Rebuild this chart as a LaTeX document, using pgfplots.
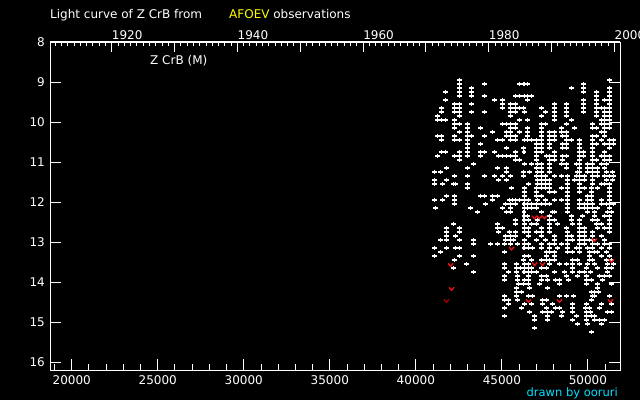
\documentclass[border=0pt]{standalone}
\usepackage{pgfplots}
\pgfplotsset{compat=1.18}
\usepackage{fontspec}
\setmainfont{DejaVu Sans}
\definecolor{afoev}{RGB}{255,255,0}
\definecolor{drawncol}{RGB}{0,224,255}
\definecolor{limred}{RGB}{240,20,20}
\definecolor{limdark}{RGB}{160,0,0}
\pgfdeclareplotmark{vee}{%
  \pgfpathmoveto{\pgfqpoint{-2.5bp}{1.5bp}}%
  \pgfpathlineto{\pgfqpoint{0bp}{-1.5bp}}%
  \pgfpathlineto{\pgfqpoint{2.5bp}{1.5bp}}%
  \pgfusepathqstroke}
\begin{document}
\fontsize{12bp}{14bp}\selectfont
\begin{tikzpicture}[x=1bp,y=1bp,font=\fontsize{12bp}{14bp}\selectfont]
\useasboundingbox (0,0) rectangle (640,400);
\fill[black] (0,0) rectangle (640,400);
\begin{axis}[
 at={(50bp,30bp)}, anchor=south west, scale only axis, width=570bp, height=328bp,
 xmin=18734, xmax=51870, ymin=8, ymax=16.2, y dir=reverse,
 axis line style={white, line width=1bp},
 every tick/.style={white, line width=1bp},
 major tick length=11bp, minor tick length=6bp, tick align=inside,
 xtick={20000,25000,...,50000}, minor xtick={19000,20000,...,51000},
 scaled x ticks=false,
 xtick pos=left, ytick pos=both,
 ytick={8,...,16},
 xticklabel style={white, anchor=north, inner sep=0pt, yshift=-5.5bp},
 yticklabel style={white, anchor=east, inner sep=0pt, xshift=-5bp},
 /pgf/number format/1000 sep={},
 /pgf/number format/assume math mode=true,
]
\addplot[only marks, mark=+, mark size=2.4bp, white, line width=1.1bp] coordinates {
(42543,8.95) (51253,8.95)
(42543,9.05) (43994,9.05) (46027,9.05) (46288,9.05) (46491,9.05) (49743,9.05)
(42543,9.15) (43240,9.15) (49047,9.15) (49743,9.15) (51253,9.15)
(41730,9.25) (42543,9.25) (43240,9.25) (49743,9.25) (50498,9.25) (51253,9.25)
(42543,9.35) (43240,9.35) (43994,9.35) (45795,9.35) (46027,9.35) (46317,9.35) (46491,9.35) (46724,9.35) (50498,9.35) (51253,9.35)
(41730,9.45) (44575,9.45) (45040,9.45) (46491,9.45) (49743,9.45) (50498,9.45) (50963,9.45) (51253,9.45)
(42252,9.55) (42543,9.55) (43240,9.55) (45040,9.55) (45504,9.55) (45795,9.55) (48059,9.55) (48756,9.55) (49743,9.55) (50498,9.55) (51253,9.55)
(41497,9.65) (42252,9.65) (42543,9.65) (45040,9.65) (45504,9.65) (45795,9.65) (46027,9.65) (46259,9.65) (47304,9.65) (48059,9.65) (48756,9.65) (49743,9.65) (50498,9.65) (50789,9.65) (50963,9.65) (51253,9.65)
(41497,9.75) (42252,9.75) (42543,9.75) (43240,9.75) (43994,9.75) (45504,9.75) (45795,9.75) (46317,9.75) (47537,9.75) (48059,9.75) (48756,9.75) (49743,9.75) (50498,9.75) (50963,9.75) (51253,9.75)
(41265,9.85) (42543,9.85) (45504,9.85) (47304,9.85) (48059,9.85) (48756,9.85) (50498,9.85) (50963,9.85) (51253,9.85)
(41265,9.95) (41497,9.95) (41730,9.95) (42252,9.95) (46027,9.95) (46491,9.95) (48059,9.95) (49047,9.95) (50789,9.95) (50963,9.95) (51253,9.95)
(42252,10.05) (42543,10.05) (43007,10.05) (45040,10.05) (45272,10.05) (45504,10.05) (45795,10.05) (47304,10.05) (47537,10.05) (48756,10.05) (50266,10.05) (50789,10.05) (50963,10.05) (51253,10.05)
(42252,10.15) (43007,10.15) (43762,10.15) (45504,10.15) (45795,10.15) (46491,10.15) (47304,10.15) (48466,10.15) (49221,10.15) (50266,10.15) (50498,10.15) (50963,10.15) (51253,10.15)
(42543,10.25) (43007,10.25) (44459,10.25) (45272,10.25) (45504,10.25) (46027,10.25) (46491,10.25) (47304,10.25) (47769,10.25) (48059,10.25) (48466,10.25) (48756,10.25) (50789,10.25) (50963,10.25)
(41265,10.35) (41497,10.35) (42252,10.35) (43007,10.35) (43240,10.35) (43994,10.35) (45272,10.35) (45504,10.35) (45795,10.35) (46491,10.35) (47304,10.35) (47769,10.35) (48059,10.35) (48524,10.35) (48756,10.35) (50266,10.35) (50498,10.35) (50963,10.35)
(41497,10.45) (42252,10.45) (42543,10.45) (43007,10.45) (44749,10.45) (45040,10.45) (45504,10.45) (45795,10.45) (46317,10.45) (46491,10.45) (46724,10.45) (47014,10.45) (47304,10.45) (47769,10.45) (48059,10.45) (48756,10.45) (49047,10.45) (49511,10.45) (50266,10.45) (50789,10.45) (51253,10.45) (51485,10.45)
(43007,10.55) (43762,10.55) (47014,10.55) (47304,10.55) (47769,10.55) (48524,10.55) (48756,10.55) (49511,10.55) (50266,10.55) (50498,10.55) (50963,10.55) (51253,10.55) (51485,10.55)
(43007,10.65) (45272,10.65) (46259,10.65) (47014,10.65) (47304,10.65) (47769,10.65) (48524,10.65) (48756,10.65) (49511,10.65) (50266,10.65) (51253,10.65)
(41497,10.75) (41730,10.75) (42543,10.75) (43007,10.75) (43762,10.75) (43994,10.75) (44575,10.75) (45795,10.75) (46288,10.75) (47014,10.75) (47304,10.75) (48059,10.75) (49511,10.75) (49743,10.75) (50266,10.75) (50963,10.75)
(41265,10.85) (42252,10.85) (42543,10.85) (43007,10.85) (43762,10.85) (44807,10.85) (45040,10.85) (45272,10.85) (45504,10.85) (45795,10.85) (47014,10.85) (47595,10.85) (47769,10.85) (48059,10.85) (48524,10.85) (48756,10.85) (49511,10.85) (49743,10.85) (50266,10.85) (50789,10.85) (50963,10.85) (51253,10.85)
(42543,10.95) (45795,10.95) (46027,10.95) (47014,10.95) (47769,10.95) (48059,10.95) (48524,10.95) (49511,10.95) (50266,10.95) (50498,10.95) (50963,10.95) (51253,10.95)
(43356,11.05) (46317,11.05) (46724,11.05) (47072,11.05) (47304,11.05) (47769,11.05) (48466,11.05) (48756,11.05) (49337,11.05) (49511,11.05) (49976,11.05) (50266,11.05) (50789,11.05) (51079,11.05)
(41788,11.15) (43007,11.15) (44749,11.15) (45272,11.15) (47014,11.15) (47304,11.15) (47769,11.15) (48756,11.15) (49511,11.15) (49976,11.15) (50266,11.15) (50556,11.15) (50963,11.15)
(41091,11.25) (41439,11.25) (45272,11.25) (46259,11.25) (46608,11.25) (47072,11.25) (47304,11.25) (47769,11.25) (49395,11.25) (49511,11.25) (49976,11.25) (50266,11.25) (50556,11.25) (51079,11.25) (51427,11.25)
(42252,11.35) (43007,11.35) (43994,11.35) (44575,11.35) (45040,11.35) (45504,11.35) (46259,11.35) (47014,11.35) (47304,11.35) (47537,11.35) (48059,11.35) (48466,11.35) (48814,11.35) (49337,11.35) (49511,11.35) (49801,11.35) (50266,11.35) (50556,11.35) (50963,11.35) (51253,11.35) (51485,11.35)
(41091,11.45) (41788,11.45) (44807,11.45) (45272,11.45) (47072,11.45) (47304,11.45) (47537,11.45) (47769,11.45) (48814,11.45) (49221,11.45) (49511,11.45) (49801,11.45) (50266,11.45) (51079,11.45) (51427,11.45)
(41091,11.55) (41556,11.55) (42194,11.55) (42310,11.55) (43007,11.55) (46550,11.55) (47072,11.55) (47304,11.55) (47537,11.55) (47769,11.55) (48814,11.55) (49511,11.55) (50266,11.55) (50789,11.55) (50963,11.55) (51253,11.55)
(43007,11.65) (45562,11.65) (46317,11.65) (47014,11.65) (47304,11.65) (47537,11.65) (47769,11.65) (48466,11.65) (48814,11.65) (49511,11.65) (49801,11.65) (50208,11.65) (50556,11.65) (51253,11.65)
(46317,11.75) (47014,11.75) (47769,11.75) (48059,11.75) (48814,11.75) (49511,11.75) (50208,11.75) (51253,11.75)
(41788,11.85) (42252,11.85) (43762,11.85) (43994,11.85) (44459,11.85) (44749,11.85) (46317,11.85) (47014,11.85) (47304,11.85) (48814,11.85) (49976,11.85) (50208,11.85) (51253,11.85)
(41091,11.95) (41556,11.95) (42252,11.95) (44459,11.95) (45446,11.95) (45620,11.95) (45795,11.95) (46027,11.95) (46317,11.95) (46550,11.95) (47072,11.95) (47537,11.95) (48059,11.95) (48466,11.95) (48814,11.95) (49511,11.95) (49976,11.95) (50208,11.95) (50789,11.95) (51253,11.95)
(42252,12.05) (44053,12.05) (45214,12.05) (45504,12.05) (45795,12.05) (46288,12.05) (46491,12.05) (46724,12.05) (47014,12.05) (47304,12.05) (47537,12.05) (47769,12.05) (48814,12.05) (49511,12.05) (49801,12.05) (49976,12.05) (50266,12.05) (50789,12.05) (51079,12.05) (51253,12.05) (51485,12.05)
(41149,12.15) (43181,12.15) (45040,12.15) (45504,12.15) (46317,12.15) (46491,12.15) (46724,12.15) (47014,12.15) (48814,12.15) (49511,12.15) (49801,12.15) (49976,12.15) (50266,12.15) (50556,12.15) (51253,12.15)
(43588,12.25) (45272,12.25) (45504,12.25) (46288,12.25) (47304,12.25) (47943,12.25) (48059,12.25) (48814,12.25) (49976,12.25) (50382,12.25) (51137,12.25) (51369,12.25)
(46288,12.35) (46491,12.35) (47769,12.35) (49047,12.35) (49685,12.35) (50382,12.35) (50963,12.35) (51253,12.35)
(45795,12.45) (46288,12.45) (46550,12.45) (47072,12.45) (47769,12.45) (48059,12.45) (49047,12.45) (49511,12.45) (50266,12.45) (50556,12.45) (51253,12.45)
(42194,12.55) (44749,12.55) (45795,12.55) (46317,12.55) (46724,12.55) (47014,12.55) (47769,12.55) (48234,12.55) (49105,12.55) (49511,12.55) (50498,12.55) (50789,12.55) (51253,12.55)
(41788,12.65) (42543,12.65) (44749,12.65) (45040,12.65) (46317,12.65) (46550,12.65) (47304,12.65) (47769,12.65) (48756,12.65) (49511,12.65) (49801,12.65) (50556,12.65) (50963,12.65) (51253,12.65)
(41788,12.75) (42543,12.75) (44807,12.75) (45446,12.75) (45795,12.75) (46317,12.75) (46550,12.75) (47014,12.75) (47304,12.75) (47769,12.75) (48814,12.75) (49511,12.75) (49801,12.75) (50266,12.75) (51253,12.75)
(41788,12.85) (42310,12.85) (45214,12.85) (45504,12.85) (45795,12.85) (46550,12.85) (47304,12.85) (48059,12.85) (48814,12.85) (49047,12.85) (49511,12.85) (49801,12.85) (50266,12.85) (50789,12.85)
(41439,12.95) (41788,12.95) (42543,12.95) (43356,12.95) (45214,12.95) (45504,12.95) (45678,12.95) (46317,12.95) (47014,12.95) (47537,12.95) (48059,12.95) (48814,12.95) (49105,12.95) (49511,12.95) (49801,12.95) (50092,12.95) (50266,12.95) (50963,12.95)
(43356,13.05) (44343,13.05) (44749,13.05) (45156,13.05) (45504,13.05) (45911,13.05) (46317,13.05) (46550,13.05) (47304,13.05) (47769,13.05) (48059,13.05) (48466,13.05) (48814,13.05) (49511,13.05) (49801,13.05) (50266,13.05) (50556,13.05) (50963,13.05) (51253,13.05)
(41091,13.15) (41788,13.15) (42310,13.15) (42543,13.15) (46288,13.15) (46550,13.15) (46782,13.15) (47304,13.15) (47769,13.15) (48234,13.15) (48814,13.15) (49337,13.15) (49511,13.15) (49976,13.15) (50266,13.15) (50789,13.15) (51253,13.15)
(41439,13.25) (45156,13.25) (47595,13.25) (47769,13.25) (48059,13.25) (48814,13.25) (49105,13.25) (49511,13.25) (50092,13.25) (50382,13.25) (50556,13.25) (51079,13.25)
(41091,13.35) (42543,13.35) (43356,13.35) (46317,13.35) (46550,13.35) (47595,13.35) (48059,13.35) (50092,13.35) (50789,13.35) (51253,13.35)
(42252,13.45) (46259,13.45) (46724,13.45) (47304,13.45) (47595,13.45) (47769,13.45) (48059,13.45) (49105,13.45) (49395,13.45) (50092,13.45) (50266,13.45) (51079,13.45) (51369,13.45)
(42949,13.55) (45156,13.55) (45853,13.55) (46317,13.55) (46550,13.55) (47769,13.55) (48350,13.55) (48756,13.55) (49105,13.55) (49511,13.55) (49976,13.55) (50382,13.55) (51137,13.55) (51485,13.55)
(42194,13.65) (45156,13.65) (45853,13.65) (46085,13.65) (46317,13.65) (46550,13.65) (46724,13.65) (47304,13.65) (47595,13.65) (49105,13.65) (49918,13.65) (50556,13.65) (51079,13.65) (51369,13.65)
(43356,13.75) (45388,13.75) (45853,13.75) (46288,13.75) (46550,13.75) (46724,13.75) (47014,13.75) (48059,13.75) (48640,13.75) (49105,13.75) (49511,13.75) (49801,13.75) (50150,13.75) (51137,13.75)
(45156,13.85) (45911,13.85) (46550,13.85) (47304,13.85) (47595,13.85) (48756,13.85) (49395,13.85) (49918,13.85) (50673,13.85) (50963,13.85) (51253,13.85)
(45156,13.95) (45911,13.95) (46317,13.95) (46550,13.95) (47304,13.95) (47653,13.95) (48117,13.95) (48350,13.95) (48872,13.95) (49918,13.95) (50208,13.95) (50847,13.95)
(45969,14.05) (46259,14.05) (46550,14.05) (47188,14.05) (48350,14.05) (49918,14.05) (50556,14.05) (51369,14.05)
(45853,14.15) (46608,14.15) (47653,14.15) (50556,14.15)
(45853,14.25) (46143,14.25) (50208,14.25) (50382,14.25) (50614,14.25)
(45156,14.35) (45853,14.35) (46550,14.35) (46782,14.35) (48350,14.35) (48756,14.35) (49163,14.35) (50266,14.35) (50382,14.35) (51253,14.35)
(45156,14.45) (45388,14.45) (45911,14.45) (47363,14.45) (47595,14.45) (50208,14.45)
(45388,14.55) (46317,14.55) (46724,14.55) (47363,14.55) (47943,14.55) (49105,14.55) (49918,14.55) (50789,14.55) (51369,14.55)
(45156,14.65) (46143,14.65) (47595,14.65) (48117,14.65) (48350,14.65) (49105,14.65) (49860,14.65) (50092,14.65) (50673,14.65)
(46608,14.75) (47363,14.75) (47653,14.75) (47885,14.75) (48524,14.75) (49105,14.75) (49918,14.75) (50150,14.75) (51137,14.75) (51369,14.75)
(45156,14.85) (46898,14.85) (47653,14.85) (48466,14.85) (49337,14.85) (49918,14.85) (50208,14.85) (50382,14.85)
(46898,14.95) (47653,14.95) (49105,14.95) (49918,14.95) (50382,14.95) (50673,14.95) (50963,14.95)
(49395,15.05) (49976,15.05) (50789,15.05)
(46898,15.15)
(50208,15.25)
};
\addplot[only marks, mark=vee, limred, line width=1.3bp] coordinates {
(45562,13.16) (46898,12.38) (47188,12.38) (47479,12.38) (50382,12.95)
(42020,13.57) (42079,14.17) (46898,13.55) (47363,13.55) (51369,13.47)
(46550,14.47) (48350,14.47) (51311,14.47)
};
\addplot[only marks, mark=vee, limdark, line width=1.3bp] coordinates {
(41788,14.47)
};
\end{axis}
\begin{axis}[
 at={(50bp,30bp)}, anchor=south west, scale only axis, width=570bp, height=328bp,
 xmin=1910.168, xmax=2000.890, ymin=0, ymax=1,
 axis x line*=top, axis y line=none,
 axis line style={white, line width=1bp},
 every tick/.style={white, line width=1bp},
 tick align=inside,
 major tick length=10bp, minor tick length=4bp,
 xtick={1920,1930,...,2000}, xticklabels={1920,,1940,,1960,,1980,,2000},
 minor xtick={1911,1912,...,2000},
 xticklabel style={white, anchor=south west, inner sep=0pt, yshift=2.5bp},
]
\end{axis}
\node[anchor=base west, text=white, inner sep=0pt] at (50,381.5) {Light curve of Z CrB from};
\node[anchor=base west, inner sep=0pt] at (229,381.5) {\textcolor{afoev}{AFOEV} \textcolor{white}{observations}};
\node[anchor=base west, text=white, inner sep=0pt] at (150,336) {Z CrB (M)};
\node[anchor=base east, text=drawncol, inner sep=0pt, font=\fontsize{11.5bp}{13bp}\selectfont] at (618,3.5) {drawn by ooruri};
\end{tikzpicture}
\end{document}
